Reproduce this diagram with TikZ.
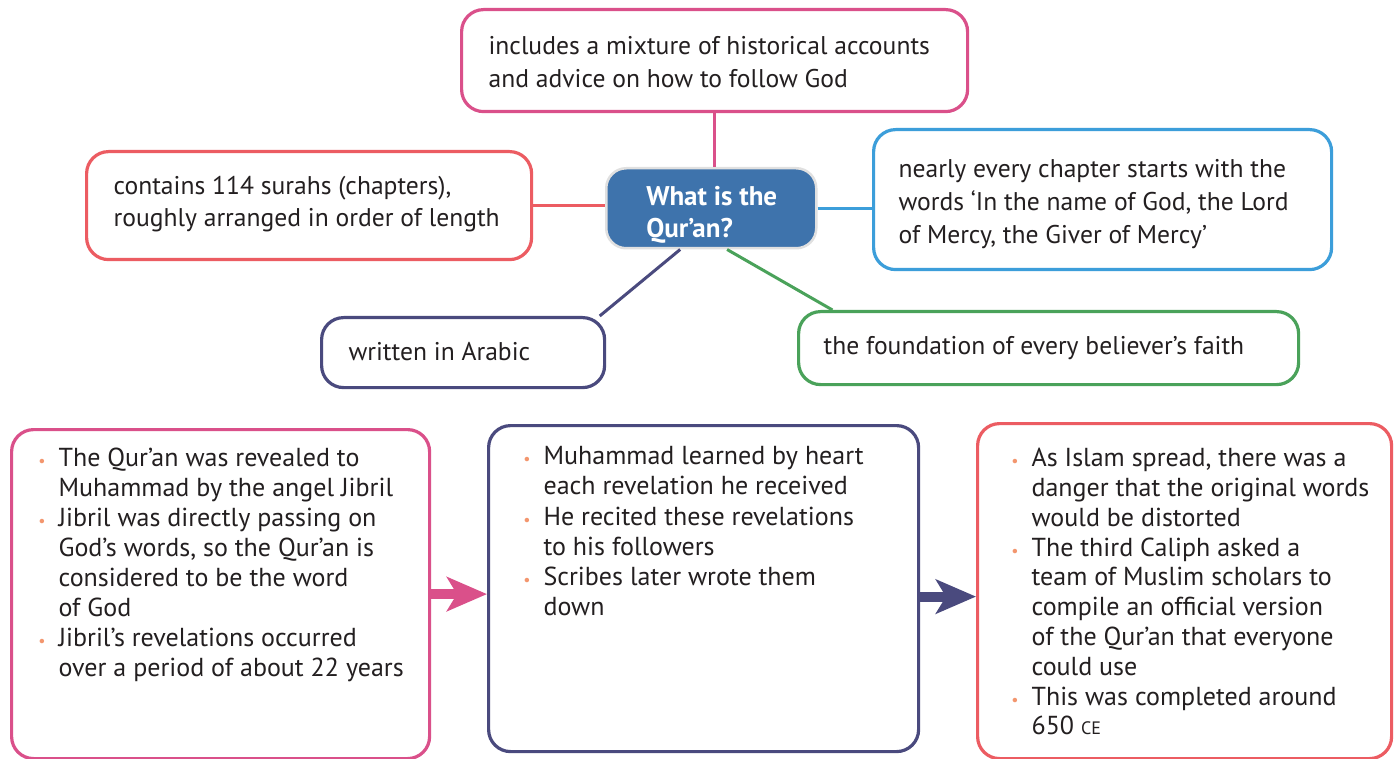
\documentclass[tikz,border=0pt]{standalone}
\usepackage{fontspec}
\setmainfont{PT Sans}
\usepackage{xcolor}
\usetikzlibrary{arrows.meta}
\definecolor{pinkc}{RGB}{218,80,138}
\definecolor{redc}{RGB}{236,92,98}
\definecolor{bluec}{RGB}{60,158,218}
\definecolor{purplec}{RGB}{74,74,126}
\definecolor{greenc}{RGB}{74,162,90}
\definecolor{hubc}{RGB}{62,115,172}
\definecolor{bulc}{RGB}{243,150,110}
\definecolor{inkc}{RGB}{35,31,32}
\newcommand{\boxtext}[7]{\parbox[t][#3][t]{#2}{\fontsize{#1}{#6}\selectfont\raggedright\leftskip=#4\relax\parindent=0pt\hfuzz=\maxdimen\hbadness=10000
\vspace*{\dimexpr#5-\ht\strutbox\relax}\strut #7}}
\newcommand{\bul}{\makebox[0pt][r]{\textcolor{bulc}{\fontsize{16}{16}\selectfont\textbullet}\hspace{13pt}}}
\tikzset{
mapbox/.style={draw=#1, line width=3.2pt, rounded corners=22pt, fill=white, inner sep=0pt, anchor=north west, text=inkc},
hub/.style={draw=black!12, line width=2.5pt, fill=hubc, rounded corners=20pt, inner sep=0pt, anchor=north west, text=white},
link/.style={draw=#1, line width=3pt},
fatarrow/.style={draw=#1, line width=10pt, -{Stealth[length=40pt,width=34pt,inset=10pt,fill=#1]}}
}

\begin{document}
\begin{tikzpicture}[x=1pt,y=-1pt]
\fill[white] (0,0) rectangle (1395,759);
\useasboundingbox (0,0) rectangle (1395,759);

\node[mapbox=pinkc] (qmix) at (460,8) {\boxtext{25.6}{506pt}{102pt}{27pt}{45pt}{33pt}{includes a mixture of historical accounts\\and advice on how to follow God}};
\node[mapbox=redc] (qsurah) at (85,150) {\boxtext{25.6}{445pt}{108pt}{27pt}{43pt}{32pt}{contains 114 surahs (chapters),\\roughly arranged in order of length}};
\node[mapbox=bluec] (qbasmala) at (872,128) {\boxtext{25.6}{458pt}{140pt}{25pt}{48pt}{33pt}{nearly every chapter starts with the\\words ‘In the name of God, the Lord\\of Mercy, the Giver of Mercy’}};
\node[mapbox=purplec] (qarabic) at (320,316) {\boxtext{25.6}{283pt}{70pt}{27pt}{43pt}{32pt}{written in Arabic}};
\node[mapbox=greenc] (qfaith) at (797,310) {\boxtext{25.6}{500pt}{73pt}{25pt}{43pt}{32pt}{the foundation of every believer’s faith}};
\node[hub] (hub) at (605,167) {\boxtext{27}{210pt}{80pt}{40pt}{37pt}{32pt}{\bfseries What is the\\Qur’an?}};

\draw[link=pinkc] (qmix.south) -- (qmix.south |- hub.north);
\draw[link=redc] (qsurah.east) -- (qsurah.east -| hub.west);
\draw[link=bluec] (hub.east) -- (hub.east -| qbasmala.west);
\draw[link=purplec] (hub.-127) -- (qarabic.15);
\draw[link=greenc] (hub.-69) -- (qfaith.170);

\node[mapbox=pinkc] (lreveal) at (10,428) {\boxtext{26}{418pt}{329pt}{47pt}{37pt}{30pt}{\bul The Qur’an was revealed to\\
Muhammad by the angel Jibril\\
\bul Jibril was directly passing on\\
God’s words, so the Qur’an is\\
considered to be the word\\
of God\\
\bul Jibril’s revelations occurred\\
over a period of about 22 years}};
\node[mapbox=purplec] (mheart) at (487,424) {\boxtext{26}{430pt}{326pt}{55pt}{39pt}{30.2pt}{\bul Muhammad learned by heart\\
each revelation he received\\
\bul He recited these revelations\\
to his followers\\
\bul Scribes later wrote them\\
down}};
\node[mapbox=redc] (rcompile) at (976,422) {\boxtext{26}{414pt}{335pt}{54pt}{43pt}{29.8pt}{\bul As Islam spread, there was a\\
danger that the original words\\
would be distorted\\
\bul The third Caliph asked a\\
team of Muslim scholars to\\
compile an official version\\
of the Qur’an that everyone\\
could use\\
\bul This was completed around\\
650 {\fontsize{18}{18}\selectfont CE}}};

\draw[fatarrow=pinkc] (lreveal.east) -- (lreveal.east -| mheart.west);
\draw[fatarrow=purplec] ([yshift=-8pt]mheart.east) -- ([yshift=-8pt]mheart.east -| rcompile.west);
\end{tikzpicture}
\end{document}
